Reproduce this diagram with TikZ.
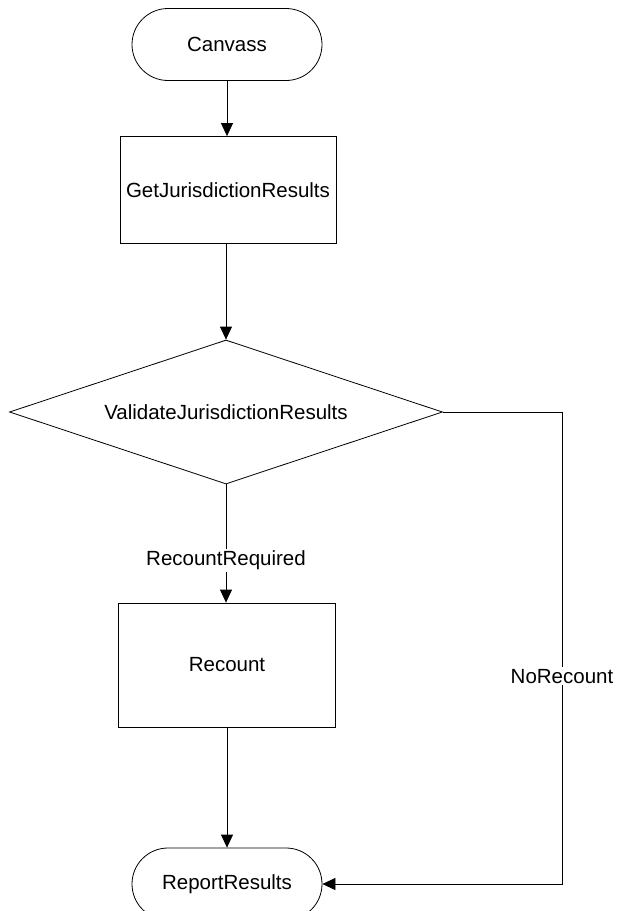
\documentclass[tikz,border=0pt]{standalone}
\usepackage{fontspec}
\setmainfont{Liberation Sans}
\usetikzlibrary{arrows.meta,shapes.geometric}
\begin{document}
\begin{tikzpicture}[x=1pt,y=-1pt,
  every node/.style={font=\fontsize{20.5}{25}\selectfont},
  line/.style={draw=black,line width=0.8pt},
  arr/.style={line,-{Triangle[length=13pt,width=12pt]}},
  term/.style={line,rounded corners=36pt,minimum width=190pt,minimum height=72pt,inner sep=0pt},
  proc/.style={line,minimum width=216pt,minimum height=107pt,inner sep=0pt},
  dec/.style={line,diamond,minimum width=433pt,minimum height=144pt,inner sep=0pt,aspect=3},
  lbl/.style={fill=white,inner sep=2pt}]
\useasboundingbox (0,0) rectangle (618,911);
\node[term] (canvass) at (227,44.5) {Canvass};
\node[proc] (get) at (228,190) {GetJurisdictionResults};
\node[dec] (val) at (226,412) {ValidateJurisdictionResults};
\node[proc, minimum width=217pt, minimum height=124pt] (rec) at (227,665) {Recount};
\node[term] (rep) at (227,884) {ReportResults};
\coordinate (c1) at (562,412);
\coordinate (c2) at (562,884);
\draw[arr] (canvass.south) -- (canvass.south |- get.north);
\draw[arr] (get.south -| val.north) -- (val.north);
\draw[arr] (val.south) -- node[lbl,pos=0.64] {RecountRequired} (val.south |- rec.north);
\draw[arr] (rec.south -| rep.north) -- (rep.north);
\draw[arr] (val.east) -- (c1) -- node[lbl,pos=0.56] {NoRecount} (c2) -- (rep.east);
\end{tikzpicture}
\end{document}
